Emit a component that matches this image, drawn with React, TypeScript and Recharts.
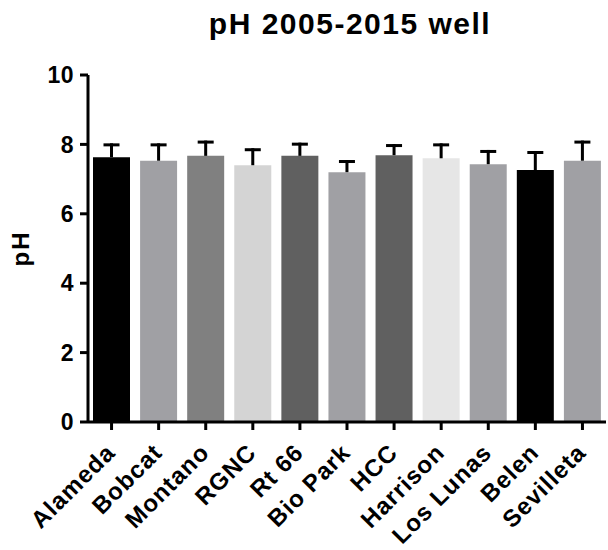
import React from "react";
import { BarChart, Bar, XAxis, YAxis, Cell } from "recharts";

const sites = [
  "Alameda",
  "Bobcat",
  "Montano",
  "RGNC",
  "Rt 66",
  "Bio Park",
  "HCC",
  "Harrison",
  "Los Lunas",
  "Belen",
  "Sevilleta",
];
const meanPh = [7.63, 7.53, 7.67, 7.4, 7.67, 7.2, 7.69, 7.6, 7.43, 7.26, 7.53];
const sdPh = [0.4, 0.5, 0.44, 0.49, 0.38, 0.35, 0.32, 0.43, 0.41, 0.55, 0.58];
const barFills = [
  "#000000",
  "#a0a0a4",
  "#808080",
  "#d4d4d4",
  "#606060",
  "#a0a0a4",
  "#606060",
  "#e6e6e6",
  "#a0a0a4",
  "#000000",
  "#a0a0a4",
];
const yTicks = [0, 2, 4, 6, 8, 10];

const data = sites.map((site, i) => ({ site, mean: meanPh[i], sd: sdPh[i] }));

const FONT = '"Liberation Sans", Arial, Helvetica, sans-serif';

// upper error whisker: stacked on the mean bar, drawn as a T
const ErrorCap = (props: any) => {
  const { x, y, width, height } = props;
  const cx = x + width / 2;
  return (
    <g>
      <rect x={cx - 1.5} y={y} width={3} height={height} fill="#000" />
      <rect x={cx - 8} y={y} width={16} height={3} fill="#000" />
    </g>
  );
};

const SiteTick = (props: any) => {
  const { x, y, payload } = props;
  return (
    <g transform={`translate(${x + 5},${y + 22})`}>
      <text
        textAnchor="end"
        transform="rotate(-45)"
        fontFamily={FONT}
        fontWeight={700}
        fontSize={24}
        letterSpacing={1}
        fill="#000"
      >
        {payload.value}
      </text>
    </g>
  );
};

const PhLabel = (props: any) => {
  const { viewBox } = props;
  const cy = viewBox.y + viewBox.height / 2;
  return (
    <text
      x={20}
      y={cy}
      transform={`rotate(-90, 20, ${cy})`}
      textAnchor="middle"
      dominantBaseline="central"
      fontFamily={FONT}
      fontWeight={700}
      fontSize={24}
      letterSpacing={2}
      fill="#000"
    >
      pH
    </text>
  );
};

export default function App() {
  return (
    <div style={{ position: "absolute", left: 0, top: 0, width: 608, height: 550, background: "#fff" }}>
      <div
        style={{
          position: "absolute",
          left: 150,
          top: 9,
          width: 400,
          textAlign: "center",
          fontFamily: FONT,
          fontWeight: 700,
          fontSize: 30,
          lineHeight: "30px",
          letterSpacing: 1.5,
          color: "#000",
        }}
      >
        pH 2005-2015 well
      </div>
      <BarChart
        width={608}
        height={550}
        data={data}
        margin={{ top: 75, right: 2, left: 0, bottom: 0 }}
      >
        <XAxis
          dataKey="site"
          interval={0}
          height={128}
          axisLine={{ stroke: "#000", strokeWidth: 3 }}
          tickLine={{ stroke: "#000", strokeWidth: 3 }}
          tickSize={8}
          tick={<SiteTick />}
        />
        <YAxis
          width={88}
          domain={[0, 10]}
          ticks={yTicks}
          allowDataOverflow
          axisLine={{ stroke: "#000", strokeWidth: 3 }}
          tickLine={{ stroke: "#000", strokeWidth: 3 }}
          tickSize={8}
          tickMargin={6}
          tick={{ fill: "#000", fontFamily: FONT, fontWeight: 700, fontSize: 23, letterSpacing: 0.5 }}
          label={<PhLabel />}
        />
        <Bar dataKey="mean" stackId="ph" barSize={37} isAnimationActive={false}>
          {data.map((d, i) => (
            <Cell key={d.site} fill={barFills[i]} />
          ))}
        </Bar>
        <Bar dataKey="sd" stackId="ph" barSize={37} shape={<ErrorCap />} isAnimationActive={false} />
      </BarChart>
    </div>
  );
}
